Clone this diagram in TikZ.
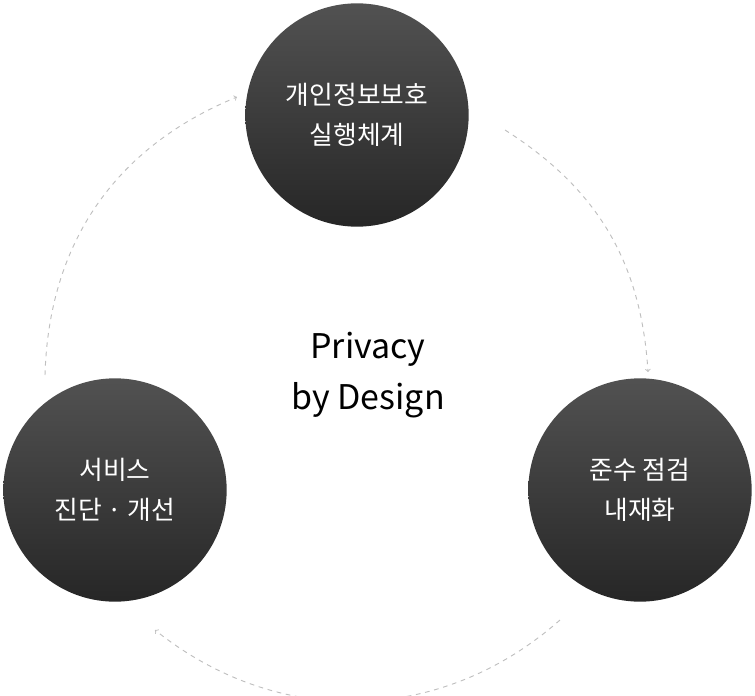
\documentclass[tikz,border=0pt]{standalone}
\usepackage{fontspec}
\setmainfont{Noto Sans CJK KR}
\usetikzlibrary{positioning}
\tikzset{
  stage/.style={circle, minimum size=6.7cm, inner sep=0pt, top color=black!68, bottom color=black!85,
    text=white, align=center, font=\fontsize{22}{34}\selectfont},
  flow/.style={draw=black!25, line width=0.8pt, dash pattern=on 4pt off 4pt, ->}
}
\begin{document}
\begin{tikzpicture}[x=0.03cm,y=-0.03cm]
  \useasboundingbox (0,0) rectangle (755,695);
  \node[stage] (plan) at (357,115) {개인정보보호\\실행체계};
  \node[stage] (check) at (640,490) {준수 점검\\내재화};
  \node[stage] (diag) at (115,490) {서비스\\진단 · 개선};
  \node[font=\fontsize{29}{44}\selectfont, align=center] (pbd) at (368,375) {Privacy\\by Design};
  \coordinate (a1) at (505,130);
  \coordinate (a2) at (648,372);
  \coordinate (b1) at (560,620);
  \coordinate (b2) at (155,630);
  \coordinate (c1) at (45,375);
  \coordinate (c2) at (237,97);
  \draw[flow] (a1) to[bend left=27] (a2);
  \draw[flow] (b1) to[bend left=40] (b2);
  \draw[flow] (c1) to[bend left=33] (c2);
\end{tikzpicture}
\end{document}
